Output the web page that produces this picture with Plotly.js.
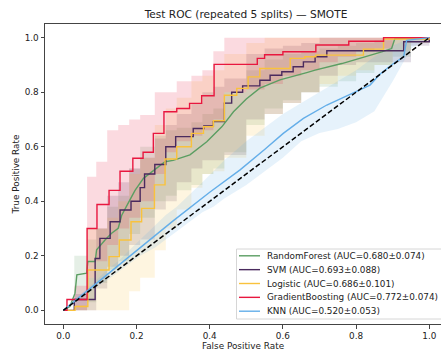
<!DOCTYPE html>
<html>
<head>
<meta charset="utf-8">
<script src="https://cdn.plot.ly/plotly-3.0.1.min.js"></script>
<style>html,body{margin:0;padding:0;background:#fff;}#chart{width:441px;height:354px;}</style>
</head>
<body>
<div id="chart"></div>
<script>
// ---- model names and AUC labels ----
const models = ["RandomForest", "SVM", "Logistic", "GradientBoosting", "KNN"];
const aucLabels = ["AUC=0.680±0.074", "AUC=0.693±0.088", "AUC=0.686±0.101", "AUC=0.772±0.074", "AUC=0.520±0.053"];
const colors = ["#5b9e62", "#4a2a5e", "#f9c23c", "#e8173f", "#64aee9"];

// ---- mean ROC curves ----
const rfFpr = [0,0.018,0.032,0.037,0.064,0.067,0.087,0.091,0.114,0.132,0.15,0.16,0.182,0.196,0.219,0.26,0.278,0.30,0.333,0.346,0.392,0.433,0.465,0.5,0.537,0.592,0.665,0.688,0.761,0.811,0.87,0.897,0.906,1.0];
const rfTpr = [0,0.014,0.063,0.13,0.136,0.179,0.179,0.222,0.258,0.283,0.301,0.35,0.405,0.44,0.484,0.527,0.545,0.55,0.563,0.57,0.618,0.673,0.728,0.775,0.815,0.845,0.872,0.881,0.905,0.924,0.948,0.96,0.997,1.0];

const svmFpr = [0,0.03,0.087,0.10,0.128,0.155,0.185,0.21,0.222,0.25,0.28,0.307,0.355,0.384,0.41,0.44,0.46,0.49,0.537,0.565,0.597,0.628,0.656,0.688,0.72,0.93,1.0];
const svmTpr = [0,0.04,0.19,0.264,0.325,0.368,0.40,0.45,0.50,0.535,0.60,0.637,0.667,0.676,0.692,0.76,0.80,0.823,0.844,0.862,0.875,0.893,0.911,0.93,0.952,0.985,1.0];

const lrFpr = [0,0.032,0.067,0.125,0.153,0.185,0.214,0.249,0.278,0.31,0.35,0.383,0.41,0.44,0.474,0.505,0.537,0.62,0.66,0.69,0.82,0.875,1.0];
const lrTpr = [0,0.014,0.148,0.197,0.258,0.325,0.374,0.46,0.555,0.60,0.649,0.673,0.695,0.789,0.814,0.856,0.887,0.924,0.93,0.936,0.958,0.995,1.0];

const gbFpr = [0,0.01,0.065,0.092,0.125,0.155,0.19,0.218,0.246,0.275,0.31,0.345,0.378,0.412,0.53,0.55,0.60,0.69,0.78,0.875,1.0];
const gbTpr = [0,0.04,0.30,0.388,0.44,0.51,0.558,0.58,0.649,0.728,0.74,0.759,0.787,0.902,0.924,0.937,0.948,0.973,0.987,1.0,1.0];

const knnFpr = [0,0.1,0.2,0.3,0.4,0.483,0.55,0.601,0.656,0.72,0.779,0.838,0.865,0.902,0.93,0.938,1.0];
const knnTpr = [0,0.11,0.218,0.328,0.433,0.515,0.59,0.649,0.704,0.753,0.789,0.826,0.866,0.905,0.93,0.99,1.0];

// ---- ±1 std bands (read on a common FPR grid) ----
const bandFpr = [0,0.03,0.065,0.09,0.12,0.15,0.18,0.21,0.25,0.28,0.31,0.35,0.38,0.41,0.44,0.5,0.55,0.6,0.65,0.7,0.75,0.8,0.85,0.9,0.95,1];
const rfUp  = [0,0.20,0.26,0.30,0.38,0.42,0.52,0.60,0.64,0.66,0.67,0.69,0.72,0.74,0.80,0.88,0.92,0.94,0.95,0.96,0.97,0.98,0.99,1,1,1];
const rfLo  = [0,0,0.03,0.10,0.15,0.18,0.28,0.34,0.40,0.42,0.44,0.46,0.50,0.52,0.58,0.68,0.74,0.77,0.80,0.82,0.84,0.87,0.90,0.93,0.99,1];
const svmUp = [0,0.06,0.12,0.30,0.42,0.47,0.52,0.56,0.63,0.68,0.72,0.76,0.80,0.82,0.85,0.94,0.96,0.97,0.98,1,1,1,1,1,1,1];
const svmLo = [0,0,0,0.08,0.16,0.20,0.24,0.26,0.37,0.40,0.47,0.52,0.55,0.55,0.57,0.70,0.72,0.76,0.80,0.86,0.90,0.91,0.91,0.91,0.97,1];
const lrUp  = [0,0.02,0.30,0.30,0.34,0.40,0.50,0.56,0.68,0.74,0.78,0.84,0.86,0.88,0.94,0.98,1,1,1,1,1,1,1,1,1,1];
const lrLo  = [0,0,0,0,0,0,0.07,0.12,0.22,0.30,0.37,0.45,0.50,0.51,0.56,0.64,0.72,0.76,0.80,0.83,0.86,0.88,0.90,0.95,0.98,1];
const gbUp  = [0,0.09,0.49,0.545,0.66,0.68,0.70,0.716,0.80,0.80,0.84,0.86,0.88,0.95,1,1,1,1,1,1,1,1,1,1,1,1];
const gbLo  = [0,0,0.12,0.18,0.24,0.30,0.34,0.40,0.50,0.58,0.62,0.64,0.66,0.70,0.80,0.81,0.83,0.86,0.88,0.91,0.93,0.95,0.96,1,1,1];
const knnUp = [0,0.04,0.08,0.11,0.15,0.18,0.22,0.26,0.31,0.35,0.38,0.43,0.47,0.51,0.55,0.62,0.67,0.72,0.76,0.80,0.84,0.88,0.93,0.97,1,1];
const knnLo = [0,0.025,0.06,0.085,0.11,0.14,0.17,0.20,0.23,0.26,0.29,0.33,0.36,0.38,0.41,0.46,0.51,0.56,0.62,0.65,0.665,0.69,0.73,0.84,0.96,1];

const xTicks = [0, 0.2, 0.4, 0.6, 0.8, 1.0];
const yTicks = [0, 0.2, 0.4, 0.6, 0.8, 1.0];

// ---- build traces ----
const means = [[rfFpr, rfTpr, 'linear'], [svmFpr, svmTpr, 'hv'], [lrFpr, lrTpr, 'hv'], [gbFpr, gbTpr, 'hv'], [knnFpr, knnTpr, 'linear']];
const bands = [[rfUp, rfLo, 'hv'], [svmUp, svmLo, 'hv'], [lrUp, lrLo, 'hv'], [gbUp, gbLo, 'hv'], [knnUp, knnLo, 'linear']];

function rgba(hex, a) {
  const n = parseInt(hex.slice(1), 16);
  return `rgba(${(n >> 16) & 255},${(n >> 8) & 255},${n & 255},${a})`;
}

const traces = [];
bands.forEach((b, i) => {
  traces.push({x: bandFpr, y: b[1], type: 'scatter', mode: 'lines', line: {width: 0, shape: b[2]}, showlegend: false, hoverinfo: 'skip'});
  traces.push({x: bandFpr, y: b[0], type: 'scatter', mode: 'lines', line: {width: 0, shape: b[2]}, fill: 'tonexty', fillcolor: rgba(colors[i], 0.16), showlegend: false, hoverinfo: 'skip'});
});
means.forEach((m, i) => {
  traces.push({x: m[0], y: m[1], type: 'scatter', mode: 'lines', showlegend: false, name: models[i] + ' (' + aucLabels[i] + ')',
    line: {color: colors[i], width: 1.4, shape: m[2]}});
});
traces.push({x: [0, 1], y: [0, 1], type: 'scatter', mode: 'lines', showlegend: false,
  line: {color: '#000', width: 1.5, dash: '5px,2.5px'}});

// ---- legend (matplotlib-style, compact rows) ----
const plotL = 45, plotW = 396, plotB = 324, plotH = 300;
const px2x = px => (px - plotL) / plotW;
const px2y = py => (plotB - py) / plotH;
const shapes = [{type: 'rect', xref: 'paper', yref: 'paper', x0: px2x(236.5), x1: px2x(446), y0: px2y(319), y1: px2y(249),
  line: {color: '#d6d6d6', width: 1}, fillcolor: 'rgba(255,255,255,0.8)', layer: 'above'}];
const annotations = [];
models.forEach((m, i) => {
  const py = 255.8 + i * 13.85;
  shapes.push({type: 'line', xref: 'paper', yref: 'paper', x0: px2x(239), x1: px2x(260), y0: px2y(py), y1: px2y(py),
    line: {color: colors[i], width: 1.4}, layer: 'above'});
  annotations.push({xref: 'paper', yref: 'paper', x: px2x(265), y: px2y(py), xanchor: 'left', yanchor: 'middle',
    text: m + ' (' + aucLabels[i] + ')', showarrow: false, font: {family: 'DejaVu Sans, sans-serif', size: 8.85, color: '#222'}});
});

const font = 'DejaVu Sans, sans-serif';
const layout = {
  width: 441, height: 354,
  margin: {l: 45, r: 0, t: 24, b: 30, pad: 0},
  paper_bgcolor: '#fff', plot_bgcolor: '#fff',
  font: {family: font, size: 8.85, color: '#222'},
  title: {text: 'Test ROC (repeated 5 splits) — SMOTE', font: {family: font, size: 10.6, color: '#222'},
    xref: 'container', x: 246 / 441, xanchor: 'center', yref: 'container', y: 1 - 14 / 354, yanchor: 'middle'},
  showlegend: false,
  shapes: shapes,
  annotations: annotations,
  xaxis: {range: [-0.05, -0.05 + 396 / 366], tickvals: xTicks, ticktext: xTicks.map(v => v.toFixed(1)),
    showgrid: false, zeroline: false, showline: true, mirror: true, linecolor: '#444', linewidth: 1,
    ticks: 'outside', ticklen: 3.5, tickcolor: '#444', tickfont: {family: font, size: 8.85, color: '#222'},
    title: {text: 'False Positive Rate', font: {family: font, size: 8.85, color: '#222'}, standoff: 1}},
  yaxis: {range: [-0.05, 1.05], tickvals: yTicks, ticktext: yTicks.map(v => v.toFixed(1)),
    showgrid: false, zeroline: false, showline: true, mirror: false, linecolor: '#444', linewidth: 1,
    ticks: 'outside', ticklen: 3.5, tickcolor: '#444', tickfont: {family: font, size: 8.85, color: '#222'},
    title: {text: 'True Positive Rate', font: {family: font, size: 8.85, color: '#222'}, standoff: 3}}
};

Plotly.newPlot('chart', traces, layout, {displayModeBar: false, staticPlot: true});
</script>
</body>
</html>
